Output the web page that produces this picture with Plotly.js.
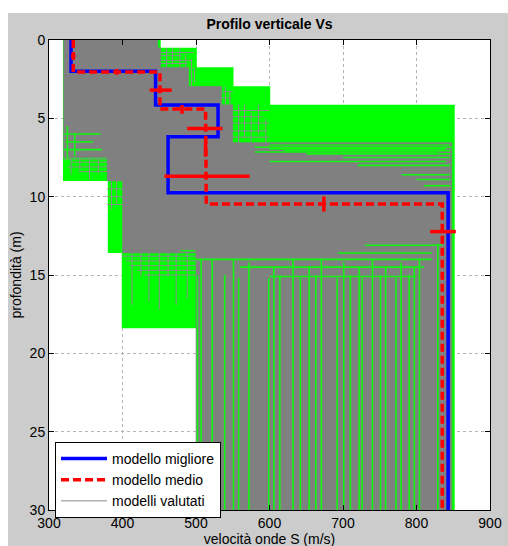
<!DOCTYPE html>
<html>
<head>
<meta charset="utf-8">
<script src="https://cdn.plot.ly/plotly-3.0.1.min.js"></script>
<style>
html,body{margin:0;padding:0;background:#ffffff;width:508px;height:546px;overflow:hidden;}
#chart{position:absolute;left:8px;top:13px;width:500px;height:541px;}
</style>
</head>
<body>
<div id="chart"></div>
<script>
// ---- data (velocity m/s, depth m) ----
// best model (modello migliore): layer velocities and top depths
const bestVel = [330, 445, 530, 462, 843];
const bestTop = [0, 2.0, 4.15, 6.17, 9.75];
// mean model (modello medio)
const meanVel = [333, 451, 513, 514, 835];
const meanTop = [0, 2.05, 4.4, 6.95, 10.47];
const maxDepth = 30;
// mean model velocity error bars (horizontal): depth, velocity, half-width
const velErrDepth = [1.02, 3.2, 5.65, 8.7, 12.23];
const velErrVel = [333, 452, 512, 515, 836];
const velErrVal = [3, 15, 24, 58, 17.5];
// mean model interface error bars (vertical): depth, velocity, half-height
const intErrDepth = [2.03, 4.43, 6.95, 10.47];
const intErrVel = [392, 481, 513, 674];
const intErrVal = [0.18, 0.28, 0.5, 0.48];
// envelope of evaluated models (green area)
const envVel = [319, 319, 380, 380, 399, 399, 500, 500, 852, 852, 601, 601, 551, 551, 501, 501, 452, 452, 319];
const envDep = [0, 9.0, 9.0, 13.6, 13.6, 18.4, 18.4, 30, 30, 4.13, 4.13, 2.96, 2.96, 1.74, 1.74, 0.5, 0.5, 0, 0];
// dense core of evaluated models (solid gray)
const coreVel = [320, 448, 448, 452, 452, 490, 490, 535, 535, 550, 550, 848, 848, 500, 500, 400, 400, 379, 379, 320, 320];
const coreDep = [0, 0, 0.5, 0.5, 1.74, 1.74, 2.96, 2.96, 4.13, 4.13, 6.55, 6.55, 30, 30, 13.6, 13.6, 9.0, 9.0, 7.5, 7.5, 0];
// evaluated-model line pieces outside the core: vertical [vel, depthTop, depthBottom]
const grayVert = [
  [460, 0.5, 1.74], [468, 0.5, 1.6], [478, 0.5, 1.74], [486, 0.9, 1.74], [494, 1.2, 2.96], [498, 1.74, 2.7],
  [540, 2.96, 4.13], [546, 3.2, 4.13], [558, 4.13, 6.55], [566, 4.13, 6.3], [575, 4.6, 6.55], [585, 4.13, 6.0], [595, 5.0, 6.55],
  [330, 7.5, 8.6], [342, 7.5, 8.3], [355, 7.5, 8.9], [367, 7.5, 8.5],
  [385, 9.0, 10.8], [392, 9.0, 10.4],
  [413, 13.6, 16.9], [425, 13.6, 15.1], [436, 13.6, 16.7], [450, 13.6, 17.2], [462, 13.6, 15.1], [473, 13.6, 16.9], [488, 13.6, 16.5]
];
// horizontal [depth, velLeft, velRight]
const grayHoriz = [
  [0.8, 452, 497], [1.0, 452, 480], [1.3, 452, 495], [1.5, 452, 488],
  [3.3, 535, 550], [3.7, 535, 548],
  [4.5, 550, 600], [4.9, 550, 590], [5.3, 550, 600], [5.8, 550, 596], [6.2, 550, 600],
  [7.6, 320, 379], [7.8, 330, 379], [8.1, 325, 379], [8.4, 340, 379],
  [9.5, 379, 400], [10.0, 379, 400], [10.5, 379, 400],
  [13.8, 400, 500], [14.1, 405, 500], [14.4, 410, 500], [14.7, 420, 500], [15.0, 430, 500]
];
// gaps between evaluated models where the envelope shows through (green)
const greenVert = [
  [502, 15.0, 30], [507, 14.0, 30], [522, 14.0, 30], [539, 15.0, 30], [551, 14.0, 30], [558, 15.2, 30], [572, 14.2, 30],
  [599, 15.2, 30], [606, 14.5, 30], [614, 15.0, 30], [632, 14.0, 30], [642, 15.2, 30], [654, 14.5, 30], [663, 15.0, 30],
  [670.5, 14.0, 30], [692, 15.2, 30], [701, 14.2, 30], [710, 15.0, 30], [722, 14.5, 30], [726, 15.2, 30], [740, 14.0, 30],
  [751, 15.0, 30], [758, 14.5, 30], [772, 15.2, 30], [779, 14.2, 30], [790, 15.0, 30], [797, 14.5, 30], [804, 14.0, 30],
  [829, 13.0, 30], [325, 5.5, 7.5], [335, 6.0, 7.4]
];
const greenHoriz = [
  [6.7, 600, 845], [6.85, 580, 848], [6.95, 600, 840], [7.06, 620, 846], [7.15, 580, 830], [7.27, 650, 846],
  [7.5, 700, 846], [7.76, 600, 840], [8.0, 720, 846], [8.6, 780, 846], [8.9, 800, 846], [9.3, 810, 846],
  [13.1, 730, 835], [13.45, 479, 499], [13.6, 693, 821], [14.0, 500, 821], [14.5, 560, 810], [15.1, 600, 800],
  [6.0, 320, 370], [6.5, 322, 360], [7.0, 320, 372]
];

// ---- builders ----
function stepLine(vel, top, bottom) {
  const x = [], y = [];
  for (let i = 0; i < vel.length; i++) {
    const d0 = top[i];
    const d1 = i + 1 < vel.length ? top[i + 1] : bottom;
    x.push(vel[i], vel[i]);
    y.push(d0, d1);
  }
  return {x, y};
}
function segs(vert, horiz) {
  const x = [], y = [];
  vert.forEach(s => { x.push(s[0], s[0], null); y.push(s[1], s[2], null); });
  horiz.forEach(s => { x.push(s[1], s[2], null); y.push(s[0], s[0], null); });
  return {x, y};
}

const best = stepLine(bestVel, bestTop, maxDepth);
const mean = stepLine(meanVel, meanTop, maxDepth);
const gl = segs(grayVert, grayHoriz);
const gr = segs(greenVert, greenHoriz);

const traces = [
  {x: envVel, y: envDep, type: 'scatter', mode: 'lines', fill: 'toself', fillcolor: '#00ff00',
   line: {width: 0, color: '#00ff00'}, showlegend: false, hoverinfo: 'skip'},
  {x: coreVel, y: coreDep, type: 'scatter', mode: 'lines', fill: 'toself', fillcolor: '#808080',
   line: {width: 0.5, color: '#808080'}, showlegend: false, hoverinfo: 'skip'},
  {x: gl.x, y: gl.y, type: 'scatter', mode: 'lines', name: 'modelli valutati', legendrank: 3,
   line: {width: 1, color: '#8c8c8c'}, connectgaps: false},
  {x: gr.x, y: gr.y, type: 'scatter', mode: 'lines', showlegend: false,
   line: {width: 1.6, color: '#11f511'}, connectgaps: false, hoverinfo: 'skip'},
  {x: best.x, y: best.y, type: 'scatter', mode: 'lines', name: 'modello migliore', legendrank: 1,
   line: {width: 3.5, color: '#0000ff'}},
  {x: mean.x, y: mean.y, type: 'scatter', mode: 'lines', name: 'modello medio', legendrank: 2,
   line: {width: 3.5, color: '#ff0000', dash: '8px,4px'}},
  {x: velErrVel, y: velErrDepth, type: 'scatter', mode: 'markers', showlegend: false,
   marker: {size: 1, color: 'rgba(0,0,0,0)'},
   error_x: {type: 'data', array: velErrVal, visible: true, color: '#ff0000', thickness: 3.5, width: 0}},
  {x: intErrVel, y: intErrDepth, type: 'scatter', mode: 'markers', showlegend: false,
   marker: {size: 1, color: 'rgba(0,0,0,0)'},
   error_y: {type: 'data', array: intErrVal, visible: true, color: '#ff0000', thickness: 3.5, width: 0}}
];

const font = {family: 'Liberation Sans, Arial, sans-serif', size: 14, color: '#000000'};
const layout = {
  width: 500, height: 541,
  paper_bgcolor: '#cccccc', plot_bgcolor: '#ffffff',
  margin: {l: 41, r: 18, t: 27, b: 44, pad: 0},
  font: font,
  title: {text: '<b>Profilo verticale Vs</b>', font: {family: font.family, size: 14, color: '#000'},
          x: 0.5, xref: 'paper', xanchor: 'center', y: 1 - 11 / 541, yref: 'container', yanchor: 'middle'},
  xaxis: {range: [300, 900], tickmode: 'array', tickvals: [300, 400, 500, 600, 700, 800, 900],
          ticks: 'inside', ticklen: 5, tickcolor: '#000', mirror: 'ticks', showline: true, linecolor: '#000', linewidth: 1,
          showgrid: true, gridcolor: '#b4b4b4', griddash: 'dot', gridwidth: 1, zeroline: false,
          tickfont: font, automargin: false,
          title: {text: 'velocità onde S (m/s)', font: font, standoff: 2}},
  yaxis: {range: [30, 0], tickmode: 'array', tickvals: [0, 5, 10, 15, 20, 25, 30],
          ticks: 'inside', ticklen: 5, tickcolor: '#000', mirror: 'ticks', showline: true, linecolor: '#000', linewidth: 1,
          showgrid: true, gridcolor: '#b4b4b4', griddash: 'dot', gridwidth: 1, zeroline: false,
          tickfont: font, automargin: false,
          title: {text: 'profondità (m)', font: font, standoff: 6}},
  legend: {x: 0.0136, y: 0.145, xanchor: 'left', yanchor: 'top', bgcolor: '#ffffff',
           bordercolor: '#000000', borderwidth: 1, font: font, traceorder: 'normal', tracegroupgap: 0,
           itemwidth: 46},
  showlegend: true
};

Plotly.newPlot('chart', traces, layout, {staticPlot: true, displayModeBar: false});
</script>
</body>
</html>
